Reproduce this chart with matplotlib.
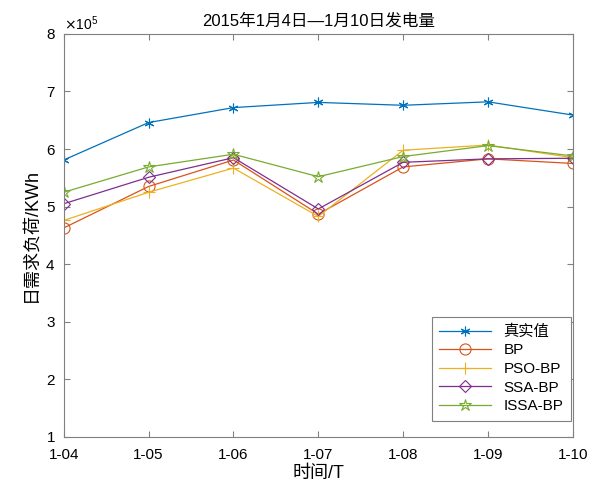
import matplotlib
matplotlib.use("Agg")
import matplotlib.pyplot as plt
from matplotlib.ticker import ScalarFormatter

plt.rcParams['font.family'] = ['Liberation Sans', 'Noto Sans CJK SC', 'DejaVu Sans']
plt.rcParams['axes.unicode_minus'] = False

days = ["1-04", "1-05", "1-06", "1-07", "1-08", "1-09", "1-10"]
actual = [5.81, 6.46, 6.72, 6.81, 6.76, 6.82, 6.59]
bp     = [4.63, 5.35, 5.81, 4.87, 5.69, 5.83, 5.75]
pso_bp = [4.76, 5.25, 5.67, 4.83, 5.98, 6.07, 5.85]
ssa_bp = [5.05, 5.51, 5.85, 4.96, 5.77, 5.83, 5.84]
issa_bp = [5.25, 5.69, 5.91, 5.52, 5.87, 6.06, 5.88]
scale = 1e5

# MATLAB-ish default colours and markers
series = [
    ("真实值", actual, "#0072BD", (6, 2, 0), 7),
    ("BP", bp, "#D95319", "o", 8),
    ("PSO-BP", pso_bp, "#EDB120", "+", 9),
    ("SSA-BP", ssa_bp, "#7E2F8E", "D", 6.5),
    ("ISSA-BP", issa_bp, "#77AC30", "*", 9),
]

fig = plt.figure(figsize=(5.9, 4.91), dpi=100)
ax = fig.add_axes([0.108, 0.110, 0.863, 0.821])

x = list(range(len(days)))
for name, vals, col, mk, ms in series:
    y = [v * scale for v in vals]
    ax.plot(x, y, color=col, lw=0.9, marker=mk, ms=ms, mfc="none", mec=col,
            mew=0.8, label=name)

ax.set_xlim(0, len(days) - 1)
ax.set_ylim(1e5, 8e5)
ax.set_xticks(x)
ax.set_xticklabels(days)
ax.set_yticks([i * scale for i in range(1, 9)])

fmt = ScalarFormatter(useMathText=True)
fmt.set_powerlimits((5, 5))
ax.yaxis.set_major_formatter(fmt)
ax.yaxis.get_offset_text().set_fontsize(10)

for sp in ax.spines.values():
    sp.set_color("#808080")
    sp.set_linewidth(0.8)
ax.tick_params(direction="in", length=4, color="#808080", labelsize=11,
               top=True, right=True, labelcolor="black")
ax.tick_params(axis="x", pad=8)
ax.tick_params(axis="y", pad=6)

ax.set_title("2015年1月4日—1月10日发电量", fontsize=12, pad=6)
ax.set_xlabel("时间/T", fontsize=13, labelpad=2)
ax.set_ylabel("日需求负荷/KWh", fontsize=13)

leg = ax.legend(loc="lower right", bbox_to_anchor=(0.996, 0.04),
                fontsize=11, fancybox=False, edgecolor="#808080",
                framealpha=1, handlelength=3.4, borderaxespad=0,
                labelspacing=0.3, borderpad=0.5)
leg.get_frame().set_linewidth(0.8)

fig.savefig("out.png", dpi=100)
